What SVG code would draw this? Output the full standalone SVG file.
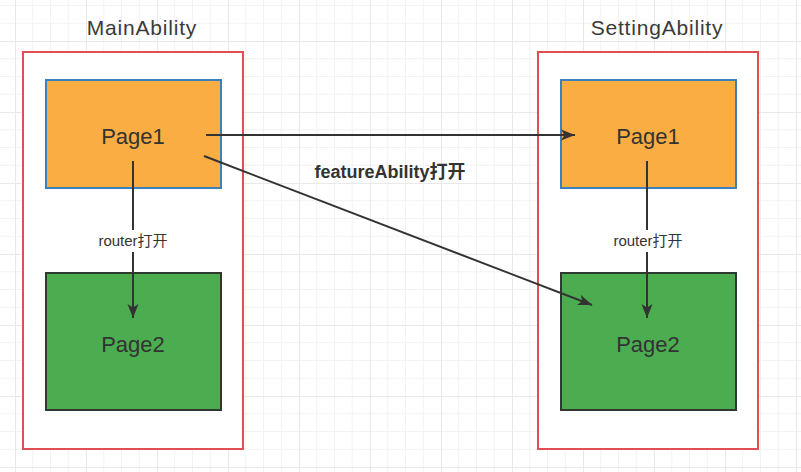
<svg xmlns="http://www.w3.org/2000/svg" width="801" height="472" viewBox="0 0 801 472">
<style>
.ability{fill:#ffffff;stroke:#df4f54;stroke-width:2}
.page1{fill:#f9ad42;stroke:#3b7fbd;stroke-width:2}
.page2{fill:#4bad50;stroke:#2e3a2f;stroke-width:2}
.title{font-family:"Liberation Sans","Noto Sans CJK SC",sans-serif;font-size:21px;letter-spacing:0.8px;fill:#3a3a3a;text-anchor:middle}
.pagetxt{font-family:"Liberation Sans","Noto Sans CJK SC",sans-serif;font-size:22px;fill:#333333;text-anchor:middle}
.lbl{font-family:"Liberation Sans","Noto Sans CJK SC",sans-serif;font-size:15px;fill:#333333;text-anchor:middle}
.lblbold{font-family:"Liberation Sans","Noto Sans CJK SC",sans-serif;font-size:18px;font-weight:bold;fill:#333333;text-anchor:middle}
.conn{fill:none;stroke:#333333;stroke-width:2}
</style>
<defs>
<pattern id="grid" patternUnits="userSpaceOnUse" x="15" y="41" width="71" height="71">
<path d="M17.75,0V71M35.5,0V71M53.25,0V71M0,17.75H71M0,35.5H71M0,53.25H71" stroke="#f2f2f2" stroke-width="1" fill="none"/>
<path d="M0.5,0V71M0,0.5H71" stroke="#e9e9e9" stroke-width="1" fill="none"/>
</pattern>
<marker id="arrow" markerUnits="userSpaceOnUse" markerWidth="16" markerHeight="12" refX="14" refY="6" orient="auto">
<path d="M0,0.5 L14,6 L0,11.5 L3.5,6 Z" fill="#333333"/>
</marker>
</defs>
<rect x="0" y="0" width="801" height="472" fill="#ffffff"/>
<rect x="0" y="0" width="801" height="472" fill="url(#grid)"/>

<g id="MainAbility">
<rect class="ability" x="23" y="52" width="220" height="397"/>
<text class="title" x="142" y="35">MainAbility</text>
</g>
<g id="SettingAbility">
<rect class="ability" x="538" y="52" width="220" height="397"/>
<text class="title" x="657" y="35">SettingAbility</text>
</g>
<g id="MainPage1">
<rect class="page1" x="46" y="80" width="175" height="108"/>
<text class="pagetxt" x="133" y="144">Page1</text>
</g>
<g id="MainPage2">
<rect class="page2" x="46" y="273" width="175" height="137"/>
<text class="pagetxt" x="133" y="352">Page2</text>
</g>
<g id="SettingPage1">
<rect class="page1" x="561" y="80" width="175" height="108"/>
<text class="pagetxt" x="648" y="144">Page1</text>
</g>
<g id="SettingPage2">
<rect class="page2" x="561" y="273" width="175" height="137"/>
<text class="pagetxt" x="648" y="352">Page2</text>
</g>

<g id="connectors">
<line class="conn" x1="206" y1="135" x2="575" y2="135" marker-end="url(#arrow)"/>
<line class="conn" x1="204" y1="156" x2="592" y2="305" marker-end="url(#arrow)"/>
<line class="conn" x1="133" y1="161" x2="133" y2="318" marker-end="url(#arrow)"/>
<line class="conn" x1="647" y1="161" x2="647" y2="318" marker-end="url(#arrow)"/>
<rect x="94" y="230" width="78" height="22" fill="#ffffff"/>
<text class="lbl" x="133" y="246">router打开</text>
<rect x="608" y="230" width="78" height="22" fill="#ffffff"/>
<text class="lbl" x="648" y="246">router打开</text>
<text class="lblbold" x="390" y="178">featureAbility打开</text>
</g>
</svg>
